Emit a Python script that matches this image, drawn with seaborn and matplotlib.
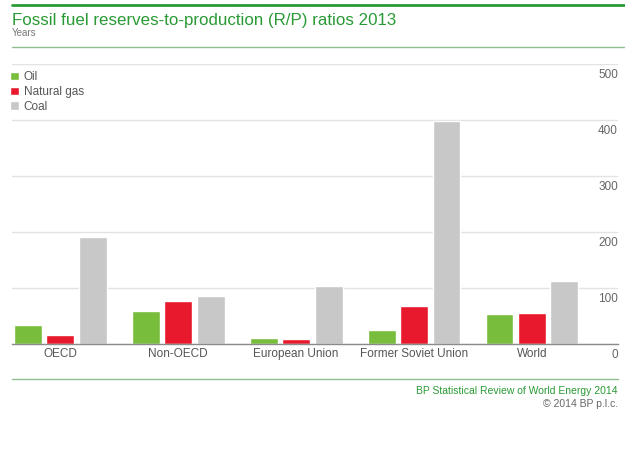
import matplotlib
matplotlib.use("Agg")
import matplotlib.pyplot as plt
import matplotlib.transforms as mtransforms
from matplotlib.lines import Line2D
import seaborn as sns
import pandas as pd

regions = ["OECD", "Non-OECD", "European Union", "Former Soviet Union", "World"]
oil = [33.5, 59.7, 11.3, 25.7, 53.3]
natural_gas = [15.5, 77.0, 9.6, 68.0, 55.1]
coal = [191, 86, 103, 398, 113]
fuels = ["Oil", "Natural gas", "Coal"]
yticks = [0, 100, 200, 300, 400, 500]

colors = {"Oil": "#78be3c", "Natural gas": "#e8192c", "Coal": "#c8c8c8"}
GREEN = "#2a9a35"

df = pd.DataFrame({
    "Region": regions * 3,
    "Fuel": ["Oil"] * 5 + ["Natural gas"] * 5 + ["Coal"] * 5,
    "Years": oil + natural_gas + coal,
})

sns.set_style("white")
plt.rcParams["font.family"] = ["Liberation Sans", "DejaVu Sans"]

W, H = 625, 451
fig = plt.figure(figsize=(W / 100, H / 100), dpi=100)
ax = fig.add_axes([12 / W, 1 - 344 / H, (618 - 12) / W, (344 - 64) / H])

sns.barplot(data=df, x="Region", y="Years", hue="Fuel", hue_order=fuels,
            order=regions, palette=colors, width=0.826, gap=0.14,
            saturation=1, ax=ax, zorder=3, legend=True)

ax.set_xlim(-0.41, 4.73)
ax.set_ylim(0, 500)
ax.set_yticks(yticks)
ax.set_yticklabels([str(v) for v in yticks])
ax.grid(axis="y", color="#e3e3e3", lw=1, zorder=0)
ax.set_xlabel("")
ax.set_ylabel("")
for s in ["top", "left", "right"]:
    ax.spines[s].set_visible(False)
ax.spines["bottom"].set_color("#8a8a8a")
ax.spines["bottom"].set_linewidth(1)
ax.spines["bottom"].set_zorder(4)

ax.tick_params(axis="x", length=0, pad=3, labelsize=8.5, labelcolor="#555555")
ax.yaxis.tick_right()
ax.tick_params(axis="y", length=0, pad=0, labelsize=8.5, labelcolor="#666666")
offset = mtransforms.ScaledTranslation(0, -5 / 100, fig.dpi_scale_trans)
for lab in ax.get_yticklabels():
    lab.set_ha("right")
    lab.set_va("top")
    lab.set_transform(lab.get_transform() + offset)

leg = ax.legend(loc="upper left", bbox_to_anchor=(10 / W, 1 - 71 / H),
                bbox_transform=fig.transFigure, frameon=False,
                handlelength=0.75, handleheight=0.75, handletextpad=0.4,
                labelspacing=0.25, fontsize=8.5, borderaxespad=0, borderpad=0)
for t in leg.get_texts():
    t.set_color("#555555")

# header and footer
fig.add_artist(Line2D([12 / W, 1], [1 - 5 / H] * 2, color=GREEN, lw=2))
fig.text(12 / W, 1 - 20.5 / H, "Fossil fuel reserves-to-production (R/P) ratios 2013",
         color=GREEN, fontsize=12.2, va="center", ha="left")
fig.text(12 / W, 1 - 33.5 / H, "Years", color="#777777", fontsize=7,
         va="center", ha="left")
fig.add_artist(Line2D([12 / W, 1], [1 - 46.5 / H] * 2, color="#8fbf8f", lw=1))
fig.add_artist(Line2D([12 / W, 618 / W], [1 - 379 / H] * 2, color="#8fbf8f", lw=1))
fig.text(618 / W, 1 - 391 / H, "BP Statistical Review of World Energy 2014",
         color=GREEN, fontsize=7.5, va="center", ha="right")
fig.text(618 / W, 1 - 404 / H, "\u00a9 2014 BP p.l.c.", color="#666666",
         fontsize=7.5, va="center", ha="right")

fig.savefig("out.png", dpi=100)
